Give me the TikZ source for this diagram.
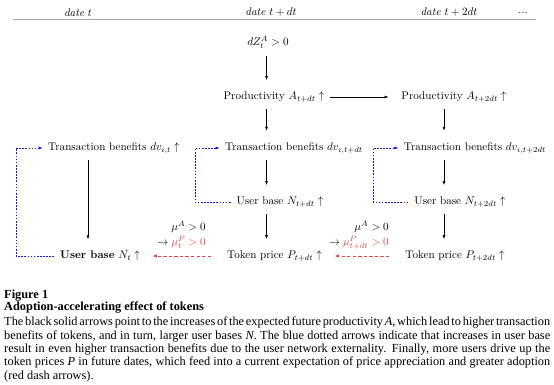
\documentclass[tikz,border=0pt]{standalone}
\usepackage{fontspec}
\usepackage{amsmath}
\newfontfamily\capfont{Liberation Serif}
\usetikzlibrary{arrows.meta}
\definecolor{myred}{rgb}{0.9,0.27,0.27}
\definecolor{myblue}{rgb}{0.1,0.1,0.9}
\newcommand{\capline}[1]{\makebox[491.4pt][s]{#1}\\}
\begin{document}
\begin{tikzpicture}[x=0.9pt,y=-0.9pt,
  every node/.style={font=\fontsize{10}{12}\selectfont, inner sep=3.3pt},
  blk/.style={-{Latex[length=3.6pt,width=2.6pt]}, line width=0.6pt, shorten <=2.5pt, shorten >=7pt},
  bluearr/.style={-{Latex[length=3.6pt,width=2.8pt]}, myblue, line width=0.6pt, dash pattern=on 1.5pt off 1.3pt, shorten <=2pt, shorten >=1.5pt},
  redarr/.style={-{Latex[length=3.8pt,width=3.2pt]}, myred, line width=0.8pt, dash pattern=on 3pt off 2pt, shorten <=11pt, shorten >=8pt},
  hdrule/.style={gray!70, line width=1.4pt}]
\useasboundingbox (0,0) rectangle (554,384);
% header
\node (h1) at (78,12.5) {\textit{date} $t$};
\node (h2) at (271,12.5) {\textit{date} $t+dt$};
\node (h3) at (449,12.5) {\textit{date} $t+2dt$};
\node (hd) at (523,12.5) {...};
\coordinate (rl) at (12.5,19.6);
\coordinate (rr) at (536,19.6);
\draw[hdrule] (rl) -- (rr);
% columns
\coordinate (c1) at (88,0);
\coordinate (c2) at (266.5,0);
\coordinate (c3) at (444,0);
\coordinate (l1) at (16,0);
\coordinate (l2) at (195,0);
\coordinate (l3) at (373,0);
% nodes
\node (dz) at (268,42) {$dZ_t^A>0$};
\node (p1) at (274,97) {Productivity $A_{t+dt}\uparrow$};
\node (p2) at (454,97) {Productivity $A_{t+2dt}\uparrow$};
\node (tb1) at (114,148) {Transaction benefits $dv_{i,t}\uparrow$};
\node (tb2) at (294,148) {Transaction benefits $dv_{i,t+dt}$};
\node (tb3) at (475,148) {Transaction benefits $dv_{i,t+2dt}$};
\node (ub1) at (100,256) {\textbf{User base} $N_t\uparrow$};
\node (ub2) at (280,202) {User base $N_{t+dt}\uparrow$};
\node (ub3) at (460,202) {User base $N_{t+2dt}\uparrow$};
\node (tp2) at (274.5,256) {Token price $P_{t+dt}\uparrow$};
\node (tp3) at (455,256) {Token price $P_{t+2dt}\uparrow$};
\node[anchor=east, align=right, inner sep=0pt] (m2) at (206,235) {$\mu^A>0$\\[1.5pt]$\rightarrow\textcolor{myred}{\mu^P_t>0}$};
\node[anchor=east, align=right, inner sep=0pt] (m3) at (389,235) {$\mu^A>0$\\[1.5pt]$\rightarrow\textcolor{myred}{\mu^P_{t+dt}>0}$};
% black arrows
\draw[blk, shorten <=3.5pt] (dz.south -| c2) -- (p1.north -| c2);
\draw[blk] (p1.south -| c2) -- (tb2.north -| c2);
\draw[blk] (p2.south -| c3) -- (tb3.north -| c3);
\draw[blk, shorten <=2pt, shorten >=8pt] (p1.east) -- (p2.west);
\draw[blk] (tb1.south -| c1) -- (ub1.north -| c1);
\draw[blk] (tb2.south -| c2) -- (ub2.north -| c2);
\draw[blk] (ub2.south -| c2) -- (tp2.north -| c2);
\draw[blk] (tb3.south -| c3) -- (ub3.north -| c3);
\draw[blk] (ub3.south -| c3) -- (tp3.north -| c3);
% blue loops
\draw[bluearr] (ub1.west) -- (ub1.west -| l1) |- (tb1.west);
\draw[bluearr] (ub2.west) -- (ub2.west -| l2) |- (tb2.west);
\draw[bluearr] (ub3.west) -- (ub3.west -| l3) |- (tb3.west);
% red arrows
\draw[redarr] (tp2.west) -- (ub1.east);
\draw[redarr] (tp3.west) -- (tp2.east);
% caption
\node[anchor=north west, inner sep=0pt, font=\capfont\fontsize{11.1}{12}\selectfont] (cap) at (4,289.5)
{\parbox[t]{491.4pt}{\spaceskip=0.25em plus 0.3em minus 0.2em\hfuzz=30pt\raggedright
\textbf{Figure 1}\\[-1pt]
\textbf{Adoption-accelerating effect of tokens}\\[1.8pt]
\capline{The black solid arrows point to the increases of the expected future productivity \textit{A}, which lead to higher transaction}
\capline{benefits of tokens, and in turn, larger user bases \textit{N}. The blue dotted arrows indicate that increases in user base}
\capline{result in even higher transaction benefits due to the user network externality. Finally, more users drive up the}
\capline{token prices \textit{P} in future dates, which feed into a current expectation of price appreciation and greater adoption}
(red dash arrows).}};
\end{tikzpicture}
\end{document}
